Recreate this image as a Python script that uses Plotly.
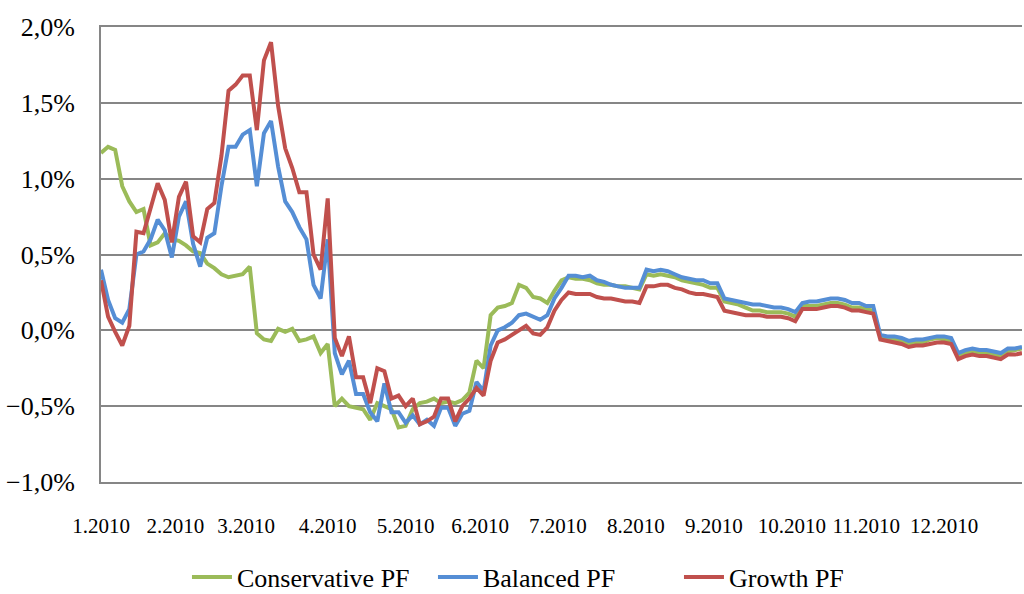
import pandas as pd
import plotly.graph_objects as go

# Business days of 2010, every second one sampled
bdays = pd.bdate_range("2010-01-01", "2010-12-31")
sample_dates = bdays[::2]

conservative = [
    1.17, 1.21, 1.19, 0.95, 0.85, 0.78, 0.80, 0.56, 0.58, 0.64,
    0.60, 0.59, 0.56, 0.52, 0.51, 0.44, 0.41, 0.37, 0.35, 0.36,
    0.37, 0.42, -0.02, -0.06, -0.07, 0.01, -0.01, 0.01, -0.07, -0.06,
    -0.04, -0.15, -0.09, -0.50, -0.45, -0.50, -0.51, -0.52, -0.59, -0.48,
    -0.50, -0.52, -0.64, -0.63, -0.52, -0.48, -0.47, -0.45, -0.48, -0.47,
    -0.48, -0.46, -0.41, -0.20, -0.25, 0.10, 0.15, 0.16, 0.18, 0.30,
    0.28, 0.22, 0.21, 0.18, 0.26, 0.33, 0.35, 0.34, 0.34, 0.33,
    0.31, 0.30, 0.30, 0.29, 0.29, 0.28, 0.27, 0.37, 0.36, 0.37,
    0.36, 0.35, 0.33, 0.32, 0.31, 0.30, 0.28, 0.28, 0.19, 0.18,
    0.17, 0.15, 0.13, 0.13, 0.12, 0.12, 0.12, 0.11, 0.09, 0.16,
    0.16, 0.16, 0.17, 0.18, 0.18, 0.17, 0.15, 0.15, 0.14, 0.13,
    -0.04, -0.05, -0.06, -0.07, -0.09, -0.08, -0.08, -0.06, -0.05, -0.06,
    -0.07, -0.17, -0.15, -0.14, -0.15, -0.15, -0.16, -0.17, -0.14, -0.13,
    -0.12,
]

balanced = [
    0.40, 0.20, 0.08, 0.05, 0.14, 0.50, 0.52, 0.60, 0.73, 0.66,
    0.48, 0.75, 0.85, 0.57, 0.42, 0.61, 0.64, 0.95, 1.21, 1.21,
    1.29, 1.32, 0.95, 1.30, 1.38, 1.08, 0.85, 0.78, 0.68, 0.60,
    0.30, 0.21, 0.60, -0.15, -0.29, -0.20, -0.42, -0.42, -0.54, -0.60,
    -0.35, -0.54, -0.54, -0.61, -0.56, -0.62, -0.59, -0.63, -0.51, -0.51,
    -0.63, -0.55, -0.53, -0.34, -0.40, -0.10, 0.00, 0.02, 0.05, 0.10,
    0.11, 0.09, 0.07, 0.10, 0.21, 0.28, 0.36, 0.36, 0.35, 0.36,
    0.33, 0.32, 0.30, 0.29, 0.28, 0.28, 0.28, 0.40, 0.39, 0.40,
    0.39, 0.37, 0.35, 0.34, 0.33, 0.33, 0.31, 0.31, 0.21, 0.20,
    0.19, 0.18, 0.17, 0.17, 0.16, 0.15, 0.15, 0.14, 0.12, 0.18,
    0.19, 0.19, 0.20, 0.21, 0.21, 0.20, 0.18, 0.18, 0.16, 0.16,
    -0.03, -0.04, -0.04, -0.05, -0.07, -0.06, -0.06, -0.05, -0.04, -0.04,
    -0.05, -0.15, -0.13, -0.12, -0.13, -0.13, -0.14, -0.15, -0.12, -0.12,
    -0.11,
]

growth = [
    0.33, 0.09, -0.01, -0.10, 0.03, 0.65, 0.64, 0.80, 0.97, 0.86,
    0.58, 0.88, 0.98, 0.62, 0.58, 0.80, 0.84, 1.15, 1.58, 1.62,
    1.68, 1.68, 1.32, 1.78, 1.90, 1.48, 1.20, 1.07, 0.91, 0.91,
    0.50, 0.40, 0.87, -0.05, -0.17, -0.04, -0.31, -0.31, -0.48, -0.25,
    -0.27, -0.45, -0.43, -0.50, -0.45, -0.62, -0.60, -0.57, -0.45, -0.45,
    -0.60, -0.50, -0.45, -0.38, -0.43, -0.20, -0.08, -0.06, -0.03, 0.00,
    0.03, -0.02, -0.03, 0.02, 0.13, 0.20, 0.25, 0.24, 0.24, 0.24,
    0.22, 0.21, 0.21, 0.20, 0.19, 0.19, 0.18, 0.29, 0.29, 0.30,
    0.30, 0.28, 0.27, 0.25, 0.24, 0.24, 0.23, 0.22, 0.13, 0.12,
    0.11, 0.10, 0.10, 0.10, 0.09, 0.09, 0.09, 0.08, 0.06, 0.14,
    0.14, 0.14, 0.15, 0.16, 0.16, 0.15, 0.13, 0.13, 0.12, 0.11,
    -0.06, -0.07, -0.08, -0.09, -0.11, -0.10, -0.10, -0.09, -0.08, -0.08,
    -0.09, -0.19, -0.17, -0.16, -0.17, -0.17, -0.18, -0.19, -0.16, -0.16,
    -0.15,
]

series_names = ["Conservative PF", "Balanced PF", "Growth PF"]
series_colors = ["#9BBB59", "#558ED5", "#C0504D"]
tick_labels = [f"{m}.2010" for m in range(1, 13)]

# x positions = business-day index
x_pos = [bdays.get_loc(d) for d in sample_dates]
month_start_idx = [int(next(i for i, d in enumerate(bdays) if d.month == m)) for m in range(1, 13)]

fig = go.Figure()
for name, vals, col in zip(series_names, [conservative, balanced, growth], series_colors):
    fig.add_trace(go.Scatter(
        x=x_pos, y=vals, mode="lines", name=name,
        line=dict(color=col, width=4),
    ))

font_family = "Liberation Serif"
grid_col = "#868686"
fig.update_layout(
    width=1024, height=594,
    margin=dict(l=101, r=2, t=27, b=112, autoexpand=False),
    paper_bgcolor="white", plot_bgcolor="white",
    separators=",.",
    font=dict(family=font_family, color="black"),
    showlegend=True,
    legend=dict(
        orientation="h", x=0.494, xanchor="center", y=-0.209, yanchor="middle",
        font=dict(family=font_family, size=26, color="black"),
        itemwidth=40, tracegroupgap=0,
        entrywidth=191, entrywidthmode="pixels",
    ),
    xaxis=dict(
        range=[0, len(bdays) - 1],
        tickmode="array", tickvals=month_start_idx, ticktext=tick_labels,
        showgrid=False, zeroline=False,
        showline=True, mirror=True, linecolor=grid_col, linewidth=2,
        ticks="", tickfont=dict(family=font_family, size=21, color="black"),
        ticklabelstandoff=24, automargin=False,
    ),
    yaxis=dict(
        range=[-1.0, 2.0], dtick=0.5, tick0=0,
        tickformat=".1f", ticksuffix="%",
        showgrid=True, gridcolor=grid_col, gridwidth=2,
        zeroline=False, showline=True, linecolor=grid_col, linewidth=2,
        ticks="", tickfont=dict(family=font_family, size=26, color="black"),
        ticklabelstandoff=19, automargin=False,
    ),
)

fig.write_html(
    "out.html",
    config={"displayModeBar": False},
    post_script="document.body.style.margin='0';",
)
